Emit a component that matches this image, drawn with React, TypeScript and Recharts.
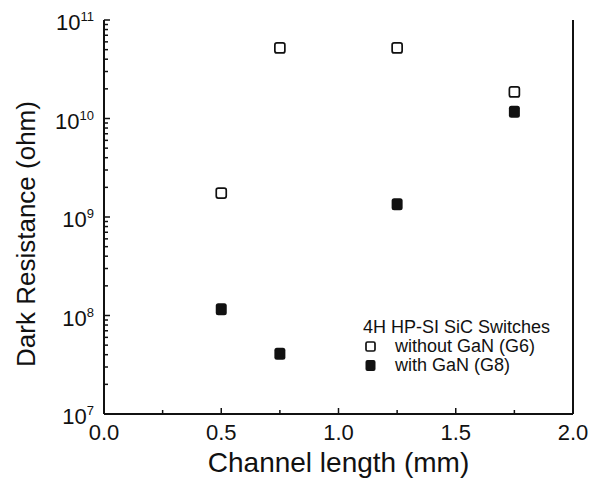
import { ScatterChart, Scatter, XAxis, YAxis, Legend } from 'recharts';

// Values (channel length in mm, dark resistance in ohm)
const channelLength = [0.5, 0.75, 1.25, 1.75];
const withoutGaN = [1.75e9, 5.2e10, 5.2e10, 1.86e10];
const withGaN = [1.16e8, 4.1e7, 1.35e9, 1.17e10];

const xTicks = [0, 0.25, 0.5, 0.75, 1.0, 1.25, 1.5, 1.75, 2.0];
const decades = [7, 8, 9, 10];
const yTicks = [
  ...decades.flatMap((e) => [1, 2, 3, 4, 5, 6, 7, 8, 9].map((m) => m * Math.pow(10, e))),
  1e11,
];

const g6 = channelLength.map((x, i) => ({ x, y: withoutGaN[i] }));
const g8 = channelLength.map((x, i) => ({ x, y: withGaN[i] }));

const FONT = 'Arial, "Liberation Sans", Helvetica, sans-serif';
const INK = '#111';

const isDecade = (v: number) => Math.abs(Math.log10(v) - Math.round(Math.log10(v))) < 1e-6;

const XTick = (props: any) => {
  const { x, y, payload } = props;
  const v = payload.value as number;
  const major = Math.abs(v * 2 - Math.round(v * 2)) < 1e-6;
  return (
    <g>
      <line x1={x} y1={y} x2={x} y2={y - (major ? 6 : 4)} stroke={INK} strokeWidth={1.5} />
      {major && (
        <text x={x} y={y + 26} textAnchor="middle" fontSize={22} fontFamily={FONT} fill={INK}>
          {v.toFixed(1)}
        </text>
      )}
    </g>
  );
};

const YTick = (props: any) => {
  const { x, y, payload } = props;
  const v = payload.value as number;
  const major = isDecade(v);
  return (
    <g>
      <line x1={x} y1={y} x2={x + (major ? 6 : 4)} y2={y} stroke={INK} strokeWidth={1.5} />
      {major && (
        <text x={x - 10} y={y + 10} textAnchor="end" fontSize={22} fontFamily={FONT} fill={INK}>
          10
          <tspan fontSize={13} dy={-9}>{Math.round(Math.log10(v))}</tspan>
        </text>
      )}
    </g>
  );
};

const OpenSquare = (props: any) => {
  const { cx, cy } = props;
  return <rect x={cx - 5} y={cy - 5} width={10} height={10} rx={2} fill="#fff" stroke={INK} strokeWidth={1.7} />;
};

const FilledSquare = (props: any) => {
  const { cx, cy } = props;
  return <rect x={cx - 5.5} y={cy - 6} width={11} height={12} rx={2.5} fill={INK} />;
};

const LegendBox = () => (
  <div style={{ fontFamily: FONT, fontSize: 18, color: INK, lineHeight: '19px', whiteSpace: 'nowrap' }}>
    <div>4H HP-SI SiC Switches</div>
    <div style={{ display: 'flex', alignItems: 'center' }}>
      <svg width={32} height={19}>
        <rect x={3} y={5} width={9} height={9} rx={1.5} fill="#fff" stroke={INK} strokeWidth={1.7} />
      </svg>
      <span>without GaN (G6)</span>
    </div>
    <div style={{ display: 'flex', alignItems: 'center' }}>
      <svg width={32} height={19}>
        <rect x={2.5} y={4} width={10} height={11} rx={2} fill={INK} />
      </svg>
      <span>with GaN (G8)</span>
    </div>
  </div>
);

const YLabel = (props: any) => {
  const vb = props.viewBox;
  const cx = vb.x + 35;
  const cy = vb.y + vb.height / 2 + 17;
  return (
    <text
      x={cx}
      y={cy}
      transform={`rotate(-90 ${cx} ${cy})`}
      textAnchor="middle"
      fontSize={26}
      fontFamily={FONT}
      fill={INK}
    >
      Dark Resistance (ohm)
    </text>
  );
};

export default function App() {
  return (
    <div style={{ position: 'absolute', left: 0, top: 0, background: '#fff' }}>
      <ScatterChart width={597} height={483} margin={{ top: 20, right: 0, bottom: 0, left: 0 }}>
        <XAxis
          xAxisId="b"
          type="number"
          dataKey="x"
          domain={[0, 2]}
          ticks={xTicks}
          tick={<XTick />}
          tickLine={false}
          tickSize={0}
          tickMargin={0}
          height={69}
          axisLine={{ stroke: INK, strokeWidth: 2 }}
          label={{ value: 'Channel length (mm)', position: 'insideBottom', offset: 11, fontSize: 28, fontFamily: FONT, fill: INK }}
        />
        <XAxis xAxisId="t" orientation="top" type="number" domain={[0, 2]} height={0} tick={false} tickLine={false} axisLine={{ stroke: INK, strokeWidth: 2 }} />
        <YAxis
          yAxisId="l"
          type="number"
          dataKey="y"
          scale="log"
          domain={[1e7, 1e11]}
          allowDataOverflow
          ticks={yTicks}
          interval={0}
          tick={<YTick />}
          tickLine={false}
          tickSize={0}
          tickMargin={0}
          width={104}
          axisLine={{ stroke: INK, strokeWidth: 2 }}
          label={{ content: <YLabel /> }}
        />
        <YAxis yAxisId="r" orientation="right" type="number" domain={[0, 1]} width={24} tick={false} tickLine={false} axisLine={{ stroke: INK, strokeWidth: 2 }} />
        <Legend
          layout="vertical"
          align="center"
          verticalAlign="middle"
          content={<LegendBox />}
          wrapperStyle={{ position: 'absolute', left: 363, top: 318, width: 220 }}
        />
        <Scatter name="without GaN (G6)" data={g6} xAxisId="b" yAxisId="l" shape={<OpenSquare />} isAnimationActive={false} />
        <Scatter name="with GaN (G8)" data={g8} xAxisId="b" yAxisId="l" shape={<FilledSquare />} isAnimationActive={false} />
      </ScatterChart>
    </div>
  );
}
